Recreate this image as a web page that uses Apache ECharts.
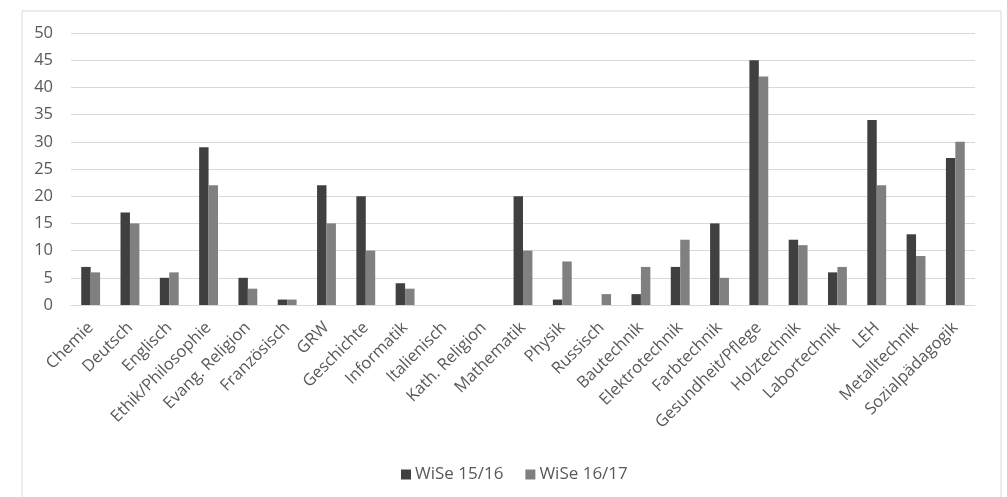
<!DOCTYPE html>
<html>
<head>
<meta charset="utf-8">
<script src="https://cdn.jsdelivr.net/npm/echarts@6/dist/echarts.min.js"></script>
<style>
html,body{margin:0;padding:0;background:#fff;}
#chart{width:1007px;height:497px;}
</style>
</head>
<body>
<div id="chart"></div>
<script>
const categories = ["Chemie","Deutsch","Englisch","Ethik/Philosophie","Evang. Religion","Französisch","GRW","Geschichte","Informatik","Italienisch","Kath. Religion","Mathematik","Physik","Russisch","Bautechnik","Elektrotechnik","Farbtechnik","Gesundheit/Pflege","Holztechnik","Labortechnik","LEH","Metalltechnik","Sozialpädagogik"];
const wise1516 = [7,17,5,29,5,1,22,20,4,0,0,20,1,0,2,7,15,45,12,6,34,13,27];
const wise1617 = [6,15,6,22,3,1,15,10,3,0,0,10,8,2,7,12,5,42,11,7,22,9,30];
const seriesNames = ["WiSe 15/16","WiSe 16/17"];
const yTicks = {min:0, max:50, interval:5};

const FONT = "'Open Sans', sans-serif";
const TXT = "#595959";
const chart = echarts.init(document.getElementById('chart'), null, {renderer:'canvas'});
chart.setOption({
  animation:false,
  backgroundColor:'#fff',
  graphic:[{
    type:'rect', left:19.5, top:8.5, silent:true,
    shape:{x:0,y:0,width:979,height:520},
    style:{fill:'none', stroke:'#d9d9d9', lineWidth:1}
  }],
  grid:{left:71, right:32, top:33, bottom:192, containLabel:false},
  legend:{
    data:seriesNames, left:396, top:461, itemWidth:10, itemHeight:10, itemGap:22,
    icon:'rect',
    textStyle:{color:TXT, fontFamily:FONT, fontSize:17, padding:[0,0,0,-1]}
  },
  xAxis:{
    type:'category', data:categories,
    axisLine:{lineStyle:{color:'#d9d9d9', width:1}},
    axisTick:{show:false},
    axisLabel:{interval:0, rotate:45, color:TXT, fontFamily:FONT, fontSize:16.5, margin:20}
  },
  yAxis:{
    type:'value', min:yTicks.min, max:yTicks.max, interval:yTicks.interval,
    axisLine:{show:false}, axisTick:{show:false},
    splitLine:{lineStyle:{color:'#d9d9d9', width:1}},
    axisLabel:{color:TXT, fontFamily:FONT, fontSize:16.5, margin:18}
  },
  series:[
    {name:seriesNames[0], type:'bar', data:wise1516, barGap:'0%', barCategoryGap:'52%',
     itemStyle:{color:'#404040'}},
    {name:seriesNames[1], type:'bar', data:wise1617, barGap:'0%', barCategoryGap:'52%',
     itemStyle:{color:'#808080'}}
  ]
});
</script>
</body>
</html>
